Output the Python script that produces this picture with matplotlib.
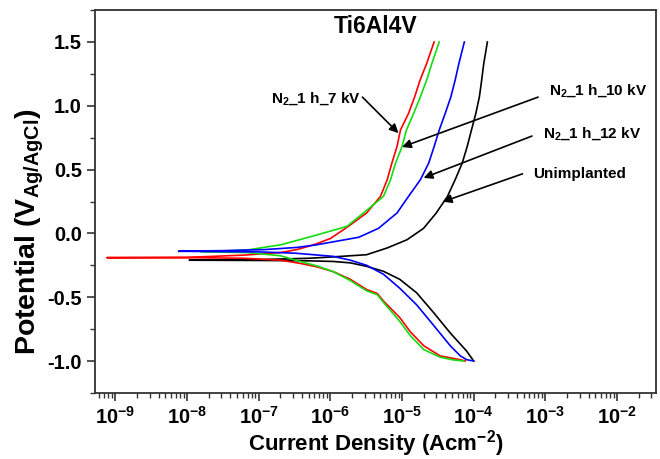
import matplotlib
matplotlib.use("Agg")
import matplotlib.pyplot as plt
from matplotlib.ticker import LogLocator, MultipleLocator, FormatStrFormatter, NullFormatter

plt.rcParams['font.family'] = ['Liberation Sans', 'DejaVu Sans']
plt.rcParams['font.weight'] = 'bold'
plt.rcParams['mathtext.default'] = 'regular'
plt.rcParams['axes.unicode_minus'] = False

# polarisation curves, each path runs from -1.0 V through Ecorr up to 1.5 V
unimp_i = [1.0e-4, 7.9e-5, 4.7e-5, 2.75e-5, 1.6e-5, 9.3e-6, 5.5e-6, 3.2e-6, 1.9e-6, 1.1e-6, 5.0e-7, 1.0e-7,
           1.07e-8,
           1.0e-7, 5.0e-7, 1.1e-6, 3.2e-6, 6.2e-6, 1.17e-5, 2.0e-5, 3.0e-5, 4.3e-5, 5.5e-5, 6.9e-5, 8.1e-5,
           9.3e-5, 1.07e-4, 1.2e-4, 1.29e-4, 1.38e-4, 1.55e-4]
unimp_e = [-1.00, -0.92, -0.78, -0.62, -0.466, -0.36, -0.297, -0.258, -0.231, -0.22, -0.215, -0.212,
           -0.21,
           -0.205, -0.195, -0.184, -0.167, -0.114, -0.05, 0.04, 0.16, 0.29, 0.42, 0.55, 0.68,
           0.81, 0.94, 1.07, 1.20, 1.33, 1.50]

kv7_i = [7.6e-5, 6.5e-5, 3.4e-5, 2.0e-5, 1.3e-5, 9.3e-6, 5.5e-6, 4.5e-6, 3.2e-6, 1.9e-6, 1.1e-6, 6.5e-7, 3.8e-7,
         2.0e-7, 6.3e-8, 1.0e-8,
         7.6e-10,
         1.0e-8, 6.3e-8, 2.0e-7, 3.4e-7, 5.8e-7, 1.0e-6, 1.78e-6, 3.2e-6, 5.0e-6, 6.2e-6, 7.2e-6, 8.5e-6,
         9.5e-6, 1.23e-5, 1.5e-5, 1.78e-5, 2.2e-5, 2.8e-5]
kv7_e = [-1.00, -0.99, -0.96, -0.88, -0.77, -0.66, -0.53, -0.47, -0.44, -0.36, -0.30, -0.262, -0.235,
         -0.21, -0.195, -0.19,
         -0.19,
         -0.188, -0.17, -0.15, -0.127, -0.09, -0.04, 0.055, 0.16, 0.29, 0.42, 0.55, 0.68,
         0.81, 0.94, 1.07, 1.20, 1.33, 1.50]

kv10_i = [7.2e-5, 5.0e-5, 3.4e-5, 2.0e-5, 1.3e-5, 9.3e-6, 5.5e-6, 4.5e-6, 3.2e-6, 1.9e-6, 1.1e-6, 6.5e-7,
          3.8e-7, 2.0e-7, 6.9e-8,
          1.55e-8,
          6.9e-8, 2.0e-7, 5.8e-7, 1.7e-6, 2.9e-6, 5.5e-6, 6.9e-6, 8.1e-6, 1.0e-5, 1.15e-5, 1.45e-5,
          1.8e-5, 2.2e-5, 2.6e-5, 3.3e-5]
kv10_e = [-1.00, -0.99, -0.97, -0.91, -0.80, -0.69, -0.54, -0.48, -0.45, -0.37, -0.30, -0.255,
          -0.22, -0.175, -0.15,
          -0.145,
          -0.13, -0.09, -0.02, 0.055, 0.16, 0.29, 0.42, 0.55, 0.68, 0.81, 0.94,
          1.07, 1.20, 1.33, 1.50]

kv12_i = [1.0e-4, 8.0e-5, 6.5e-5, 4.7e-5, 2.75e-5, 1.6e-5, 9.3e-6, 5.5e-6, 3.2e-6, 1.9e-6, 1.1e-6, 5.8e-7,
          3.2e-7, 1.0e-7,
          7.6e-9,
          3.2e-8, 1.2e-7, 3.4e-7, 6.3e-7, 1.0e-6, 2.5e-6, 4.7e-6, 8.5e-6, 1.23e-5, 1.8e-5, 2.35e-5,
          2.8e-5, 3.3e-5, 4.0e-5, 4.8e-5, 5.5e-5, 6.2e-5, 7.4e-5]
kv12_e = [-1.00, -0.99, -0.96, -0.88, -0.72, -0.56, -0.43, -0.32, -0.25, -0.21, -0.18, -0.167,
          -0.155, -0.145,
          -0.14,
          -0.135, -0.127, -0.11, -0.09, -0.07, -0.03, 0.04, 0.16, 0.29, 0.42, 0.55,
          0.68, 0.81, 0.94, 1.07, 1.20, 1.33, 1.50]

x_ticks = [1e-9, 1e-8, 1e-7, 1e-6, 1e-5, 1e-4, 1e-3, 1e-2]
y_ticks = [-1.0, -0.5, 0.0, 0.5, 1.0, 1.5]

series = [
    (unimp_i, unimp_e, 'black'),
    (kv7_i, kv7_e, '#ff0000'),
    (kv10_i, kv10_e, '#11dd11'),
    (kv12_i, kv12_e, '#0000ff'),
]

# label text, text anchor (i, E), arrow tail, arrow head
labels = [
    ('N$_2$_1 h_7 kV', (1.5e-7, 1.06), (2.8e-6, 1.068), (8.9e-6, 0.786)),
    ('N$_2$_1 h_10 kV', (1.13e-3, 1.122), (7.9e-4, 1.068), (1.0e-5, 0.677)),
    ('N$_2$_1 h_12 kV', (9.3e-4, 0.779), (6.5e-4, 0.763), (2.0e-5, 0.435)),
    ('Unimplanted', (6.8e-4, 0.467), (4.8e-4, 0.467), (3.7e-5, 0.248)),
]

fig = plt.figure(figsize=(6.6, 4.59), dpi=100)
ax = fig.add_axes([0.144, 0.144, 0.850, 0.834])

for cur, pot, col in series:
    ax.plot(cur, pot, color=col, lw=1.2)

ax.set_xscale('log')
ax.set_xticks(x_ticks)
ax.xaxis.set_minor_locator(LogLocator(base=10, subs=range(2, 10), numticks=100))
ax.xaxis.set_minor_formatter(NullFormatter())
ax.set_xlim(5.2e-10, 3.5e-2)
ax.set_ylim(-1.25, 1.75)
ax.set_yticks(y_ticks)
ax.yaxis.set_major_formatter(FormatStrFormatter('%.1f'))
ax.yaxis.set_minor_locator(MultipleLocator(0.25))

for sp in ax.spines.values():
    sp.set_linewidth(1.3)
    sp.set_color('#333333')
ax.tick_params(which='major', direction='out', length=6, width=1.2, color='#333333',
               labelsize=14.5, top=False, right=False)
ax.tick_params(which='minor', direction='out', length=3.5, width=1.0, color='#333333',
               top=False, right=False)

ax.set_xlabel('Current Density (Acm$^{-2}$)', fontsize=16, fontweight='bold', labelpad=0)
ax.set_ylabel('Potential (V$_{Ag/AgCl}$)', fontsize=20.5, fontweight='bold')
ax.yaxis.set_label_coords(-0.088, 0.42)

ax.text(1.1e-6, 1.62, 'Ti6Al4V', fontsize=16.5, fontweight='bold', va='center', ha='left')

for txt, pos, tail, head in labels:
    ax.text(pos[0], pos[1], txt, fontsize=11, fontweight='bold', va='center', ha='left')
    ax.annotate('', xy=head, xytext=tail,
                arrowprops=dict(arrowstyle='-|>', color='black', lw=1.2, mutation_scale=13,
                                shrinkA=0, shrinkB=0))

fig.savefig('out.png', dpi=100)
